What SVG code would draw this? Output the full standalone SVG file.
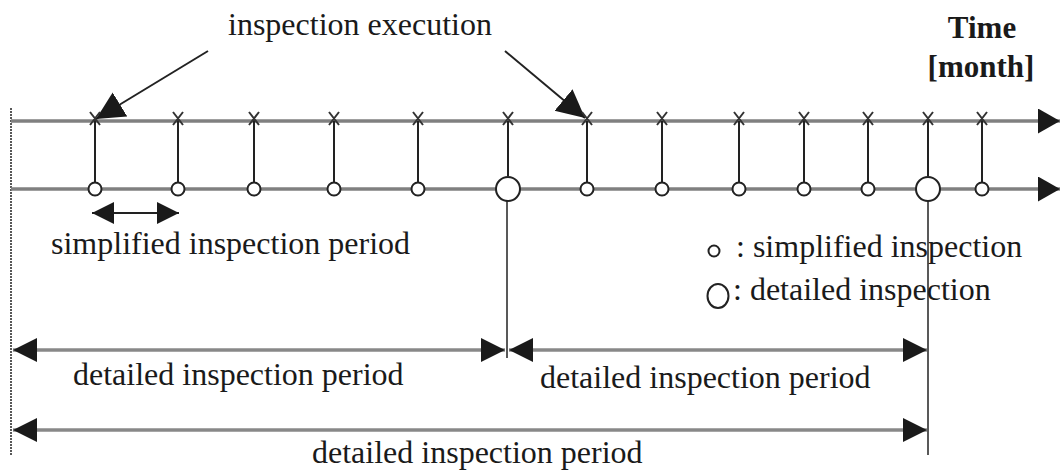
<svg xmlns="http://www.w3.org/2000/svg" width="1060" height="473" viewBox="0 0 1060 473">
<style>
text{font-family:"Liberation Serif","Times New Roman",serif;font-size:32px;fill:#1a1a1a}
.bold{font-weight:bold;font-size:31px}
.axis{stroke:#808080;stroke-width:3.5;fill:none}
.tick{stroke:#222;stroke-width:2;fill:none}
.xm{stroke:#333;stroke-width:2}
.circ{fill:#fff;stroke:#222;stroke-width:2}
.per{stroke:#888;stroke-width:3.5;fill:none}
.thin{stroke:#222;stroke-width:1.5;fill:none}
.ptr{stroke:#222;stroke-width:2;fill:none}
</style>
<defs>
<marker id="ah" markerUnits="userSpaceOnUse" markerWidth="26" markerHeight="26" refX="24" refY="12" orient="auto-start-reverse"><path d="M0,0 L24,12 L0,24 z" fill="#1a1a1a"/></marker>
<marker id="aha" markerUnits="userSpaceOnUse" markerWidth="24" markerHeight="26" refX="22" refY="12.5" orient="auto"><path d="M0,0 L22,12.5 L0,25 z" fill="#1a1a1a"/></marker>
<marker id="ahs" markerUnits="userSpaceOnUse" markerWidth="24" markerHeight="24" refX="22" refY="11" orient="auto-start-reverse"><path d="M0,0 L22,11 L0,22 z" fill="#1a1a1a"/></marker>
<marker id="ptr" markerUnits="userSpaceOnUse" markerWidth="30" markerHeight="30" refX="28" refY="14" orient="auto"><path d="M0,0 L28,14 L0,28 z" fill="#1a1a1a"/></marker>
</defs>
<g id="connectors">
<line class="thin" x1="11" y1="108" x2="11" y2="455" stroke-dasharray="2,1"/>
<line class="axis" x1="11" y1="121" x2="1060" y2="121" marker-end="url(#aha)"/>
<line class="axis" x1="11" y1="189" x2="1060" y2="189" marker-end="url(#aha)"/>
<line class="ptr" x1="208" y1="51" x2="96" y2="119" marker-end="url(#ptr)"/>
<line class="ptr" x1="505" y1="51" x2="585" y2="118" marker-end="url(#ptr)"/>
<line class="thin" x1="507" y1="201" x2="507" y2="358"/>
<line class="thin" x1="928" y1="201" x2="928" y2="455"/>
<line class="tick" x1="92" y1="213" x2="179" y2="213" marker-start="url(#ahs)" marker-end="url(#ahs)"/>
<line class="per" x1="13" y1="350" x2="505" y2="350" marker-start="url(#ah)" marker-end="url(#ah)"/>
<line class="per" x1="509" y1="350" x2="927" y2="350" marker-start="url(#ah)" marker-end="url(#ah)"/>
<line class="per" x1="13" y1="430" x2="927" y2="430" marker-start="url(#ah)" marker-end="url(#ah)"/>
</g>
<g id="ticks">
<path class="tick" d="M95,121V182 M178,121V182 M254,121V182 M334,121V182 M418,121V182 M508,121V176 M587,121V182 M662,121V182 M739,121V182 M804,121V182 M868,121V182 M928,121V176 M982,121V182"/>
<path class="xm" d="M90,112l10,13m0,-13l-10,13 M173,112l10,13m0,-13l-10,13 M249,112l10,13m0,-13l-10,13 M329,112l10,13m0,-13l-10,13 M413,112l10,13m0,-13l-10,13 M503,112l10,13m0,-13l-10,13 M582,112l10,13m0,-13l-10,13 M657,112l10,13m0,-13l-10,13 M734,112l10,13m0,-13l-10,13 M799,112l10,13m0,-13l-10,13 M863,112l10,13m0,-13l-10,13 M923,112l10,13m0,-13l-10,13 M977,112l10,13m0,-13l-10,13"/>
</g>
<g id="inspections">
<circle class="circ" cx="95" cy="189" r="6.5"/>
<circle class="circ" cx="178" cy="189" r="6.5"/>
<circle class="circ" cx="254" cy="189" r="6.5"/>
<circle class="circ" cx="334" cy="189" r="6.5"/>
<circle class="circ" cx="418" cy="189" r="6.5"/>
<circle class="circ" cx="508" cy="189" r="12"/>
<circle class="circ" cx="587" cy="189" r="6.5"/>
<circle class="circ" cx="662" cy="189" r="6.5"/>
<circle class="circ" cx="739" cy="189" r="6.5"/>
<circle class="circ" cx="804" cy="189" r="6.5"/>
<circle class="circ" cx="868" cy="189" r="6.5"/>
<circle class="circ" cx="928" cy="189" r="12"/>
<circle class="circ" cx="982" cy="189" r="6.5"/>
</g>
<g id="label-execution"><text x="228" y="35">inspection execution</text></g>
<g id="label-time"><text class="bold" x="982" y="38" text-anchor="middle">Time</text><text class="bold" x="981" y="77" text-anchor="middle">[month]</text></g>
<g id="label-simplified-period"><text x="51" y="254">simplified inspection period</text></g>
<g id="legend">
<circle class="circ" cx="714" cy="251" r="5.5" stroke-width="1.5"/>
<text x="736" y="257">: simplified inspection</text>
<ellipse class="circ" cx="718" cy="296" rx="10.5" ry="12" stroke-width="1.5"/>
<text x="733" y="300">: detailed inspection</text>
</g>
<g id="label-period-1"><text x="73" y="385">detailed inspection period</text></g>
<g id="label-period-2"><text x="540" y="388">detailed inspection period</text></g>
<g id="label-period-3"><text x="312" y="463">detailed inspection period</text></g>
</svg>
